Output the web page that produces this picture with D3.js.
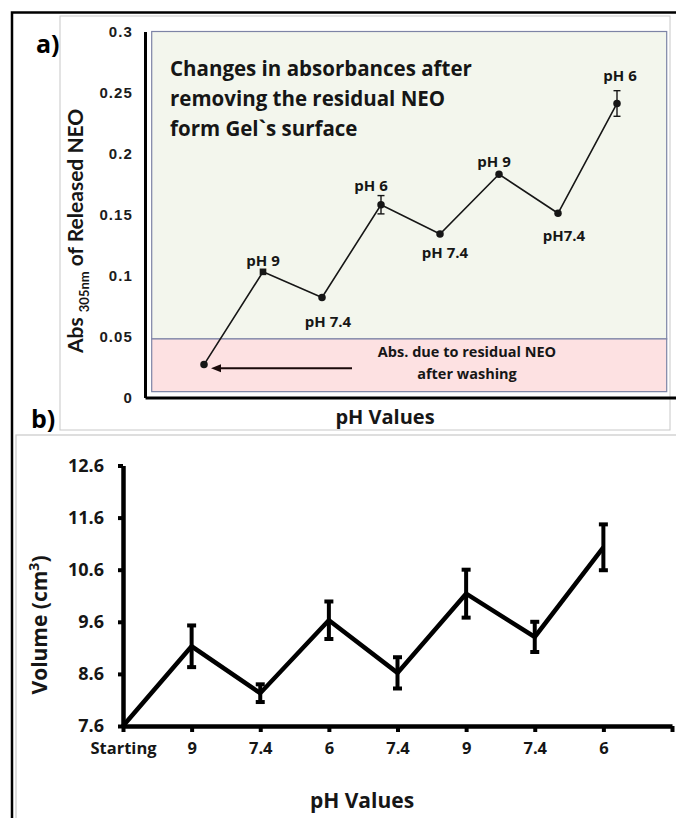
<!DOCTYPE html>
<html>
<head>
<meta charset="utf-8">
<script src="https://cdn.jsdelivr.net/npm/d3@7/dist/d3.min.js"></script>
<style>
  html, body { margin: 0; padding: 0; background: #fff; }
  svg { display: block; }
</style>
</head>
<body>
<svg id="fig" width="676" height="818"></svg>
<script>
// ---- Panel a: absorbance of released NEO after each pH step ----
const absLabels = ["", "pH 9", "pH 7.4", "pH 6", "pH 7.4", "pH 9", "pH7.4", "pH 6"];
const absValues = [0.027, 0.103, 0.082, 0.158, 0.134, 0.183, 0.151, 0.241];
const absErrors = [0, 0, 0, 0.0075, 0, 0, 0, 0.0105];
const absTicks = [0, 0.05, 0.1, 0.15, 0.2, 0.25, 0.3];
const absTickLabels = ["0", "0.05", "0.1", "0.15", "0.2", "0.25", "0.3"];
const residualAbs = 0.048;   // level attributed to residual NEO after washing

// ---- Panel b: gel volume after each pH step ----
const volCategories = ["Starting", "9", "7.4", "6", "7.4", "9", "7.4", "6"];
const volValues = [7.6, 9.13, 8.23, 9.63, 8.62, 10.14, 9.31, 11.03];
const volErrors = [0, 0.40, 0.17, 0.36, 0.30, 0.46, 0.29, 0.44];
const volTicks = [7.6, 8.6, 9.6, 10.6, 11.6, 12.6];

const svg = d3.select("#fig");
const FONT = "'Open Sans', Lato, sans-serif";
const NARROW = "Lato, 'Open Sans', sans-serif";
const INK = "#161616";

// outer frame and panel borders
svg.append("rect").attr("x", 60).attr("y", 16).attr("width", 610).attr("height", 414)
  .attr("fill", "none").attr("stroke", "#c8c8c8").attr("stroke-width", 1);
svg.append("rect").attr("x", 16).attr("y", 435).attr("width", 670).attr("height", 400)
  .attr("fill", "none").attr("stroke", "#c8c8c8").attr("stroke-width", 1.2);
svg.append("path").attr("d", "M676,12.5 H12 V818")
  .attr("fill", "none").attr("stroke", "#000").attr("stroke-width", 2.5);

// ================= Panel a =================
const xa = d3.scaleLinear().domain([-1, 8]).range([145, 676]);
const ya = d3.scaleLinear().domain([0, 0.3]).range([397.5, 31.5]);

const boxL = 151.7, boxR = 666.7;
// upper (released) region
svg.append("rect").attr("x", boxL).attr("y", ya(0.3))
  .attr("width", boxR - boxL).attr("height", ya(residualAbs) - ya(0.3))
  .attr("fill", "#f3f6ed").attr("stroke", "#7d84a6").attr("stroke-width", 1.2);
// lower (residual) region
svg.append("rect").attr("x", boxL).attr("y", ya(residualAbs))
  .attr("width", boxR - boxL).attr("height", ya(0.0048) - ya(residualAbs))
  .attr("fill", "#fde1e2").attr("stroke", "#7d84a6").attr("stroke-width", 1.2);

// axes
const gya = svg.append("g").attr("transform", `translate(${xa(-1)},0)`)
  .call(d3.axisLeft(ya).tickValues(absTicks).tickSize(0).tickSizeOuter(0).tickPadding(12)
    .tickFormat((d, i) => absTickLabels[i]));
gya.select(".domain").attr("stroke", "#000").attr("stroke-width", 3);
gya.selectAll("text").attr("font-family", "'Liberation Sans', Arial, sans-serif")
  .attr("font-weight", "bold").attr("font-size", 15).attr("fill", "#1c1c1c")
  .attr("letter-spacing", "1.1px");

const gxa = svg.append("g").attr("transform", `translate(0,${ya(0)})`)
  .call(d3.axisBottom(xa).tickValues([]).tickSizeOuter(0));
gxa.select(".domain").attr("stroke", "#000").attr("stroke-width", 3);

// line, error bars, markers
const lineA = d3.line().x((d, i) => xa(i)).y(d => ya(d));
svg.append("path").datum(absValues).attr("d", lineA)
  .attr("fill", "none").attr("stroke", INK).attr("stroke-width", 1.6);

absValues.forEach((v, i) => {
  const e = absErrors[i];
  if (e > 0) {
    const g = svg.append("g").attr("stroke", INK).attr("stroke-width", 1.4);
    g.append("line").attr("x1", xa(i)).attr("x2", xa(i)).attr("y1", ya(v - e)).attr("y2", ya(v + e));
    [v - e, v + e].forEach(c => g.append("line")
      .attr("x1", xa(i) - 3.5).attr("x2", xa(i) + 3.5).attr("y1", ya(c)).attr("y2", ya(c)));
  }
});
svg.append("g").selectAll("path").data(absValues).join("path")
  .attr("transform", (d, i) => `translate(${xa(i)},${ya(d)})`)
  .attr("d", (d, i) => d3.symbol(i === 1 ? d3.symbolSquare : d3.symbolCircle, i === 1 ? 44 : 44)())
  .attr("fill", INK);

// point labels (nudges place them clear of the line and error bars)
const labelNudge = [[0, 0], [0, -6], [6, 30], [-10, -14], [5, 24], [-5, -7], [6, 28], [3, -22]];
svg.append("g").selectAll("text").data(absLabels).join("text")
  .attr("x", (d, i) => xa(i) + labelNudge[i][0])
  .attr("y", (d, i) => ya(absValues[i]) + labelNudge[i][1])
  .attr("text-anchor", "middle")
  .attr("font-family", FONT).attr("font-weight", "bold").attr("font-size", 15).attr("fill", INK)
  .text(d => d);

// title inside the plot
const title = ["Changes in absorbances after", "removing the residual NEO", "form Gel`s surface"];
svg.append("g").selectAll("text").data(title).join("text")
  .attr("x", 170).attr("y", (d, i) => 76 + i * 30)
  .attr("font-family", FONT).attr("font-weight", "bold").attr("font-size", 20.5).attr("fill", INK)
  .text(d => d);

// residual annotation with arrow toward the first point
svg.append("line").attr("x1", 352).attr("x2", 219).attr("y1", 368.3).attr("y2", 368.3)
  .attr("stroke", "#1a0a0a").attr("stroke-width", 2);
svg.append("path").attr("d", "M211,368.3 L221,364.3 L221,372.3 Z").attr("fill", "#1a0a0a");
svg.append("g").selectAll("text").data(["Abs. due to residual NEO", "after washing"]).join("text")
  .attr("x", 467).attr("y", (d, i) => 357 + i * 21.5).attr("text-anchor", "middle")
  .attr("font-family", FONT).attr("font-weight", "bold").attr("font-size", 14.5).attr("fill", INK)
  .text(d => d);

// axis titles
const yaTitle = svg.append("text")
  .attr("transform", "translate(83,353) rotate(-90)")
  .attr("font-family", NARROW).attr("font-weight", "bold").attr("font-size", 21).attr("fill", INK);
yaTitle.append("tspan").text("Abs ");
yaTitle.append("tspan").attr("font-size", 13).attr("dy", 6).text("305nm");
yaTitle.append("tspan").attr("dy", -6).text(" of Released NEO");

svg.append("text").attr("x", 385).attr("y", 424).attr("text-anchor", "middle")
  .attr("font-family", FONT).attr("font-weight", "bold").attr("font-size", 20).attr("fill", INK)
  .text("pH Values");

svg.append("text").attr("x", 36).attr("y", 53)
  .attr("font-family", FONT).attr("font-weight", "bold").attr("font-size", 25).attr("fill", "#000")
  .text("a)");

// ================= Panel b =================
const xb = d3.scaleLinear().domain([0, 8]).range([123, 672]);
const yb = d3.scaleLinear().domain([7.6, 12.6]).range([726, 465.5]);

const gyb = svg.append("g").attr("transform", `translate(${xb(0)},0)`)
  .call(d3.axisLeft(yb).tickValues(volTicks).tickSize(5).tickSizeOuter(0).tickPadding(14)
    .tickFormat(d3.format(".1f")));
gyb.select(".domain").attr("stroke", "#000").attr("stroke-width", 4.5);
gyb.selectAll(".tick line").attr("stroke", "#000").attr("stroke-width", 4);
gyb.selectAll("text").attr("font-family", FONT).attr("font-weight", "bold")
  .attr("font-size", 18).attr("fill", INK);

const gxb = svg.append("g").attr("transform", `translate(0,${yb(7.6)})`)
  .call(d3.axisBottom(xb).tickValues(d3.range(0, 9)).tickSize(6).tickSizeOuter(0).tickPadding(10)
    .tickFormat(i => volCategories[i] || ""));
gxb.select(".domain").attr("stroke", "#000").attr("stroke-width", 4.5);
gxb.selectAll(".tick line").attr("stroke", "#000").attr("stroke-width", 4);
gxb.selectAll("text").attr("font-family", FONT).attr("font-weight", "bold")
  .attr("font-size", 16.5).attr("fill", INK);

const lineB = d3.line().x((d, i) => xb(i)).y(d => yb(d));
svg.append("path").datum(volValues).attr("d", lineB)
  .attr("fill", "none").attr("stroke", "#000").attr("stroke-width", 4.5)
  .attr("stroke-linejoin", "miter");

volValues.forEach((v, i) => {
  const e = volErrors[i];
  if (e > 0) {
    const g = svg.append("g").attr("stroke", "#000").attr("stroke-width", 4);
    g.append("line").attr("x1", xb(i)).attr("x2", xb(i)).attr("y1", yb(v - e)).attr("y2", yb(v + e));
    [v - e, v + e].forEach(c => g.append("line")
      .attr("x1", xb(i) - 4.5).attr("x2", xb(i) + 4.5).attr("y1", yb(c)).attr("y2", yb(c)));
  }
});

const ybTitle = svg.append("text")
  .attr("transform", "translate(47,625) rotate(-90)").attr("text-anchor", "middle")
  .attr("font-family", FONT).attr("font-weight", "bold").attr("font-size", 21).attr("fill", INK);
ybTitle.append("tspan").text("Volume (cm");
ybTitle.append("tspan").attr("font-size", 14).attr("dy", -8).text("3");
ybTitle.append("tspan").attr("dy", 8).text(")");

svg.append("text").attr("x", 362).attr("y", 808).attr("text-anchor", "middle")
  .attr("font-family", FONT).attr("font-weight", "bold").attr("font-size", 21).attr("fill", INK)
  .text("pH Values");

svg.append("text").attr("x", 31).attr("y", 428)
  .attr("font-family", FONT).attr("font-weight", "bold").attr("font-size", 25).attr("fill", "#000")
  .text("b)");
</script>
</body>
</html>
